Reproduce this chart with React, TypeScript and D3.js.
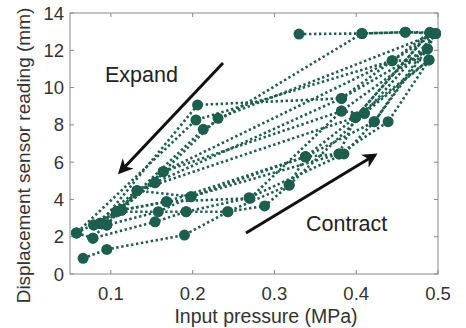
import React from "react";
import * as d3 from "d3";

// Input pressure (MPa), displacement (mm) for each recorded cycle
const cycle1: [number, number][] = [
  [0.066, 0.84], [0.095, 1.32], [0.19, 2.09], [0.243, 3.34], [0.288, 3.65], [0.318, 4.77],
  [0.338, 6.29], [0.379, 6.44], [0.439, 8.17], [0.489, 11.48], [0.444, 11.44], [0.204, 8.26], [0.058, 2.2],
];
const cycle2: [number, number][] = [
  [0.058, 2.2], [0.078, 1.92], [0.154, 2.8], [0.192, 3.34], [0.269, 4.09], [0.385, 6.44],
  [0.422, 8.17], [0.487, 12.07], [0.382, 9.42], [0.206, 9.07], [0.087, 2.72],
];
const cycle3: [number, number][] = [
  [0.087, 2.72], [0.095, 2.63], [0.158, 3.34], [0.198, 4.15], [0.338, 6.29], [0.399, 8.4],
  [0.49, 12.95], [0.46, 12.97], [0.407, 12.9], [0.213, 7.76], [0.107, 3.34],
];
const cycle4: [number, number][] = [
  [0.113, 3.43], [0.168, 3.88], [0.27, 4.06], [0.382, 8.74], [0.41, 8.62], [0.497, 12.9],
  [0.231, 8.35], [0.164, 5.49], [0.154, 4.9], [0.132, 4.47], [0.079, 2.63],
];
const cycle5: [number, number][] = [
  [0.33, 12.87], [0.407, 12.9], [0.46, 12.97], [0.497, 12.9], [0.487, 12.07], [0.382, 8.74],
  [0.164, 5.49], [0.113, 3.43],
];
const cycle6: [number, number][] = [
  [0.079, 2.63], [0.107, 3.34], [0.192, 3.34], [0.243, 3.34], [0.318, 4.77], [0.41, 8.62],
  [0.489, 11.48], [0.399, 8.4], [0.132, 4.47], [0.095, 2.63],
];
const cycle7: [number, number][] = [
  [0.095, 2.63], [0.132, 4.47], [0.198, 4.15], [0.379, 6.44], [0.399, 8.4], [0.49, 12.95],
  [0.382, 9.42], [0.154, 4.9], [0.087, 2.72],
];
const cycle8: [number, number][] = [
  [0.058, 2.2], [0.113, 3.43], [0.168, 3.88], [0.338, 6.29], [0.422, 8.17], [0.497, 12.9],
  [0.444, 11.44], [0.164, 5.49], [0.107, 3.34], [0.078, 1.92],
];
const cycles = [cycle1, cycle2, cycle3, cycle4, cycle5, cycle6, cycle7, cycle8];

const xTicks = [0.1, 0.2, 0.3, 0.4, 0.5];
const yTicks = [0, 2, 4, 6, 8, 10, 12, 14];

const W = 466, H = 328;
const M = { left: 70, right: 438, top: 13, bottom: 274 };
const COLOR = "#1d5f4e";
const AXIS = "#8a8a8a";
const FONT = "'Liberation Sans', Arial, Helvetica, sans-serif";

export default function App() {
  const x = d3.scaleLinear().domain([0.05, 0.5]).range([M.left, M.right]);
  const y = d3.scaleLinear().domain([0, 14]).range([M.bottom, M.top]);
  const line = d3.line<[number, number]>().x((d) => x(d[0])).y((d) => y(d[1]));

  return (
    <svg width={W} height={H} style={{ position: "absolute", left: 0, top: 0, background: "#fff" }}>
      <defs>
        <marker id="ah" viewBox="0 0 10 10" refX="8" refY="5" markerWidth="5" markerHeight="5" orient="auto">
          <path d="M0,0 L10,5 L0,10 L3,5 z" fill="#111" />
        </marker>
      </defs>
      {/* axes box */}
      <rect x={M.left} y={M.top} width={M.right - M.left} height={M.bottom - M.top} fill="none" stroke={AXIS} strokeWidth={1} />
      {xTicks.map((t) => (
        <g key={"x" + t}>
          <line x1={x(t)} x2={x(t)} y1={M.bottom} y2={M.bottom - 4} stroke={AXIS} />
          <line x1={x(t)} x2={x(t)} y1={M.top} y2={M.top + 4} stroke={AXIS} />
          <text x={x(t)} y={300} textAnchor="middle" fontSize={18.5} fill="#333" fontFamily={FONT}>{d3.format(".1f")(t)}</text>
        </g>
      ))}
      {yTicks.map((t) => (
        <g key={"y" + t}>
          <line x1={M.left} x2={M.left + 4} y1={y(t)} y2={y(t)} stroke={AXIS} />
          <line x1={M.right} x2={M.right - 4} y1={y(t)} y2={y(t)} stroke={AXIS} />
          <text x={64} y={y(t) + 6.5} textAnchor="end" fontSize={18.5} fill="#333" fontFamily={FONT}>{t}</text>
        </g>
      ))}
      <text x={(M.left + M.right) / 2 + 12} y={323} textAnchor="middle" fontSize={19.5} fill="#333" fontFamily={FONT}>Input pressure (MPa)</text>
      <text transform={`translate(30,${(M.top + M.bottom) / 2 + 12}) rotate(-90)`} textAnchor="middle" fontSize={19} fill="#333" fontFamily={FONT}>Displacement sensor reading (mm)</text>

      {/* data */}
      {cycles.map((c, i) => (
        <g key={"c" + i}>
          <path d={line(c) || ""} fill="none" stroke={COLOR} strokeWidth={2.6} strokeDasharray="2.4 2.6" />
          {c.map((d, j) => (
            <circle key={j} cx={x(d[0])} cy={y(d[1])} r={5.5} fill={COLOR} />
          ))}
        </g>
      ))}

      {/* annotations */}
      <line x1={223} y1={63} x2={120} y2={172} stroke="#111" strokeWidth={3} markerEnd="url(#ah)" />
      <line x1={246} y1={233} x2={375} y2={155} stroke="#111" strokeWidth={3} markerEnd="url(#ah)" />
      <text x={105} y={82} fontSize={21.5} fill="#222" fontFamily={FONT}>Expand</text>
      <text x={306} y={231} fontSize={21.5} fill="#222" fontFamily={FONT}>Contract</text>
    </svg>
  );
}
